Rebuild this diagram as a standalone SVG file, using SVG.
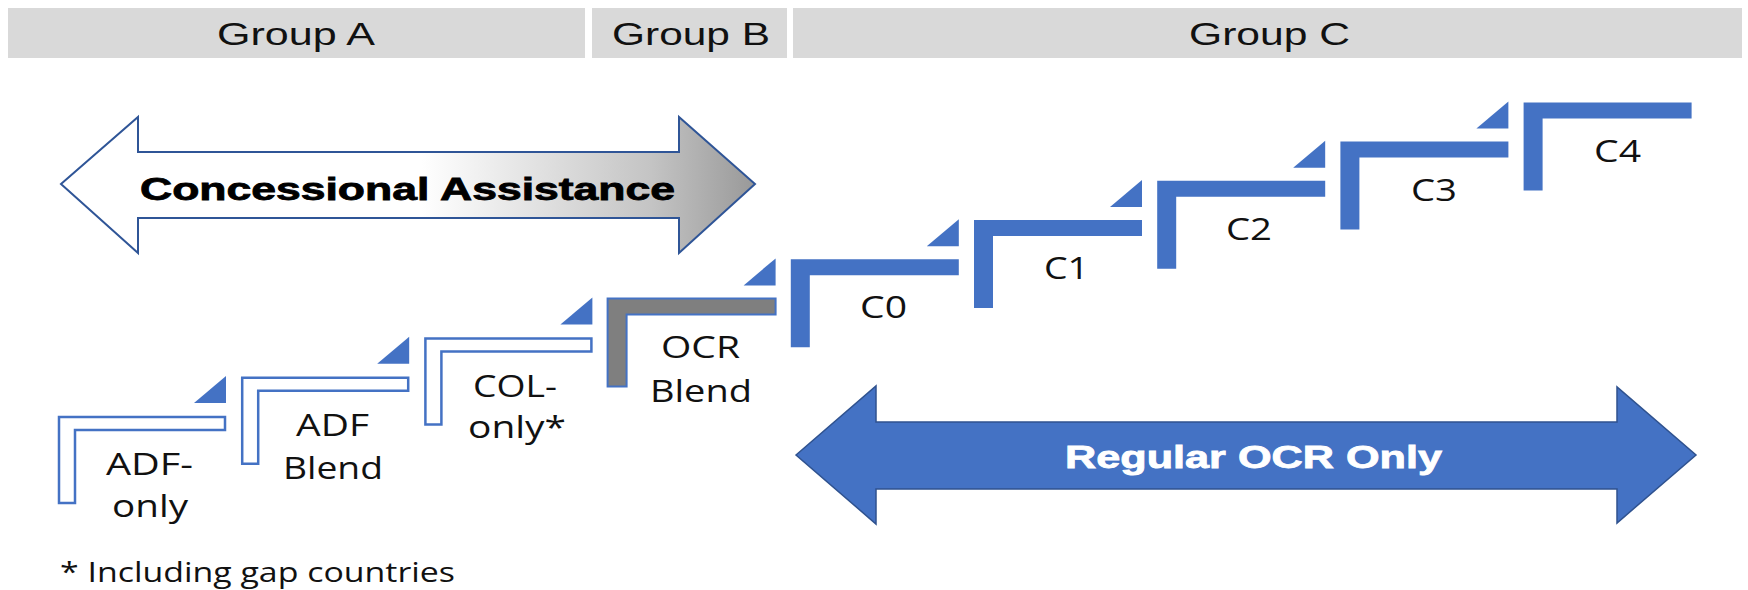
<svg xmlns="http://www.w3.org/2000/svg" xmlns:xlink="http://www.w3.org/1999/xlink" width="1748" height="590" viewBox="0 0 1748 590">
<style>
.hdr{fill:#D9D9D9}
.hdrt{font-family:"Liberation Sans",Arial,sans-serif;font-size:31px;fill:#111}
.lbl{font-family:"Open Sans","Noto Sans",sans-serif;font-size:31px;fill:#111}
.foot{font-family:"Open Sans","Noto Sans",sans-serif;font-size:28px;fill:#111}
.arrt{font-family:"Liberation Sans",Arial,sans-serif;font-weight:bold;font-size:31px}
.solid{fill:#4472C4}
.outl{fill:#fff;stroke:#4472C4;stroke-width:2.5}
.gray{fill:#7F7F7F;stroke:#4472C4;stroke-width:2}
.tri{fill:#4472C4}
</style>
<defs>
<path id="stepL" d="M0,0 H168 V16 H19 V88 H0 Z"/>
<path id="stepO" d="M1,1 H167 V14 H17 V87 H1 Z"/>
<path id="stepTri" d="M136,-13 L168,-40 L168,-13 Z"/>
<linearGradient id="concGrad" gradientUnits="userSpaceOnUse" x1="61" y1="0" x2="755" y2="0">
<stop offset="0" stop-color="#ffffff"/>
<stop offset="0.52" stop-color="#ffffff"/>
<stop offset="0.85" stop-color="#c4c4c4"/>
<stop offset="1" stop-color="#999999"/>
</linearGradient>
</defs>

<g id="header-group-a">
<rect class="hdr" x="8" y="8" width="577" height="50"/>
<text class="hdrt" x="217" y="45" textLength="158" lengthAdjust="spacingAndGlyphs">Group A</text>
</g>
<g id="header-group-b">
<rect class="hdr" x="592" y="8" width="195" height="50"/>
<text class="hdrt" x="612" y="45" textLength="158" lengthAdjust="spacingAndGlyphs">Group B</text>
</g>
<g id="header-group-c">
<rect class="hdr" x="793" y="8" width="949" height="50"/>
<text class="hdrt" x="1189" y="45" textLength="161" lengthAdjust="spacingAndGlyphs">Group C</text>
</g>

<g id="arrow-concessional">
<path d="M61,184 L138,117 L138,152 L679,152 L679,117 L755,184 L679,253 L679,218 L138,218 L138,253 Z" fill="url(#concGrad)" stroke="#2F5597" stroke-width="2" stroke-linejoin="miter"/>
<text class="arrt" x="140" y="200" fill="#000" stroke="#000" stroke-width="0.8" textLength="535" lengthAdjust="spacingAndGlyphs">Concessional Assistance</text>
</g>

<g id="arrow-regular-ocr">
<path d="M796,455 L876,386 L876,422 L1617,422 L1617,387 L1696,455 L1617,523 L1617,489 L876,489 L876,524 Z" fill="#4472C4" stroke="#2F528F" stroke-width="1.5"/>
<text class="arrt" x="1065" y="468" fill="#fff" stroke="#fff" stroke-width="0.8" textLength="377" lengthAdjust="spacingAndGlyphs">Regular OCR Only</text>
</g>

<g id="step-adf-only">
<use href="#stepO" xlink:href="#stepO" x="58" y="416" class="outl"/>
<use href="#stepTri" xlink:href="#stepTri" x="58" y="416" class="tri"/>
<text class="lbl" x="106" y="475" textLength="87" lengthAdjust="spacingAndGlyphs">ADF-</text>
<text class="lbl" x="112" y="517" textLength="76" lengthAdjust="spacingAndGlyphs">only</text>
</g>
<g id="step-adf-blend">
<use href="#stepO" xlink:href="#stepO" x="241.2" y="376.8" class="outl"/>
<use href="#stepTri" xlink:href="#stepTri" x="241.2" y="376.8" class="tri"/>
<text class="lbl" x="296" y="435.5" textLength="73" lengthAdjust="spacingAndGlyphs">ADF</text>
<text class="lbl" x="283" y="479" textLength="100" lengthAdjust="spacingAndGlyphs">Blend</text>
</g>
<g id="step-col-only">
<use href="#stepO" xlink:href="#stepO" x="424.4" y="337.6" class="outl"/>
<use href="#stepTri" xlink:href="#stepTri" x="424.4" y="337.6" class="tri"/>
<text class="lbl" x="473" y="397" textLength="84" lengthAdjust="spacingAndGlyphs">COL-</text>
<text class="lbl" x="468" y="438" textLength="98" lengthAdjust="spacingAndGlyphs">only*</text>
</g>
<g id="step-ocr-blend">
<use href="#stepL" xlink:href="#stepL" x="607.6" y="298.4" class="gray"/>
<use href="#stepTri" xlink:href="#stepTri" x="607.6" y="298.4" class="tri"/>
<text class="lbl" x="661" y="358" textLength="79" lengthAdjust="spacingAndGlyphs">OCR</text>
<text class="lbl" x="650" y="402" textLength="102" lengthAdjust="spacingAndGlyphs">Blend</text>
</g>
<g id="step-c0">
<use href="#stepL" xlink:href="#stepL" x="790.8" y="259.2" class="solid"/>
<use href="#stepTri" xlink:href="#stepTri" x="790.8" y="259.2" class="tri"/>
<text class="lbl" x="860" y="318" textLength="47" lengthAdjust="spacingAndGlyphs">C0</text>
</g>
<g id="step-c1">
<use href="#stepL" xlink:href="#stepL" x="974" y="220" class="solid"/>
<use href="#stepTri" xlink:href="#stepTri" x="974" y="220" class="tri"/>
<text class="lbl" x="1044" y="279" textLength="45" lengthAdjust="spacingAndGlyphs">C1</text>
</g>
<g id="step-c2">
<use href="#stepL" xlink:href="#stepL" x="1157.2" y="180.8" class="solid"/>
<use href="#stepTri" xlink:href="#stepTri" x="1157.2" y="180.8" class="tri"/>
<text class="lbl" x="1226" y="240" textLength="46" lengthAdjust="spacingAndGlyphs">C2</text>
</g>
<g id="step-c3">
<use href="#stepL" xlink:href="#stepL" x="1340.4" y="141.6" class="solid"/>
<use href="#stepTri" xlink:href="#stepTri" x="1340.4" y="141.6" class="tri"/>
<text class="lbl" x="1411" y="201" textLength="46" lengthAdjust="spacingAndGlyphs">C3</text>
</g>
<g id="step-c4">
<use href="#stepL" xlink:href="#stepL" x="1523.6" y="102.4" class="solid"/>
<text class="lbl" x="1594" y="162" textLength="47" lengthAdjust="spacingAndGlyphs">C4</text>
</g>

<g id="footnote">
<text class="foot" x="60" y="582" textLength="395" lengthAdjust="spacingAndGlyphs">* Including gap countries</text>
</g>

<g id="connectors"></g>
</svg>
